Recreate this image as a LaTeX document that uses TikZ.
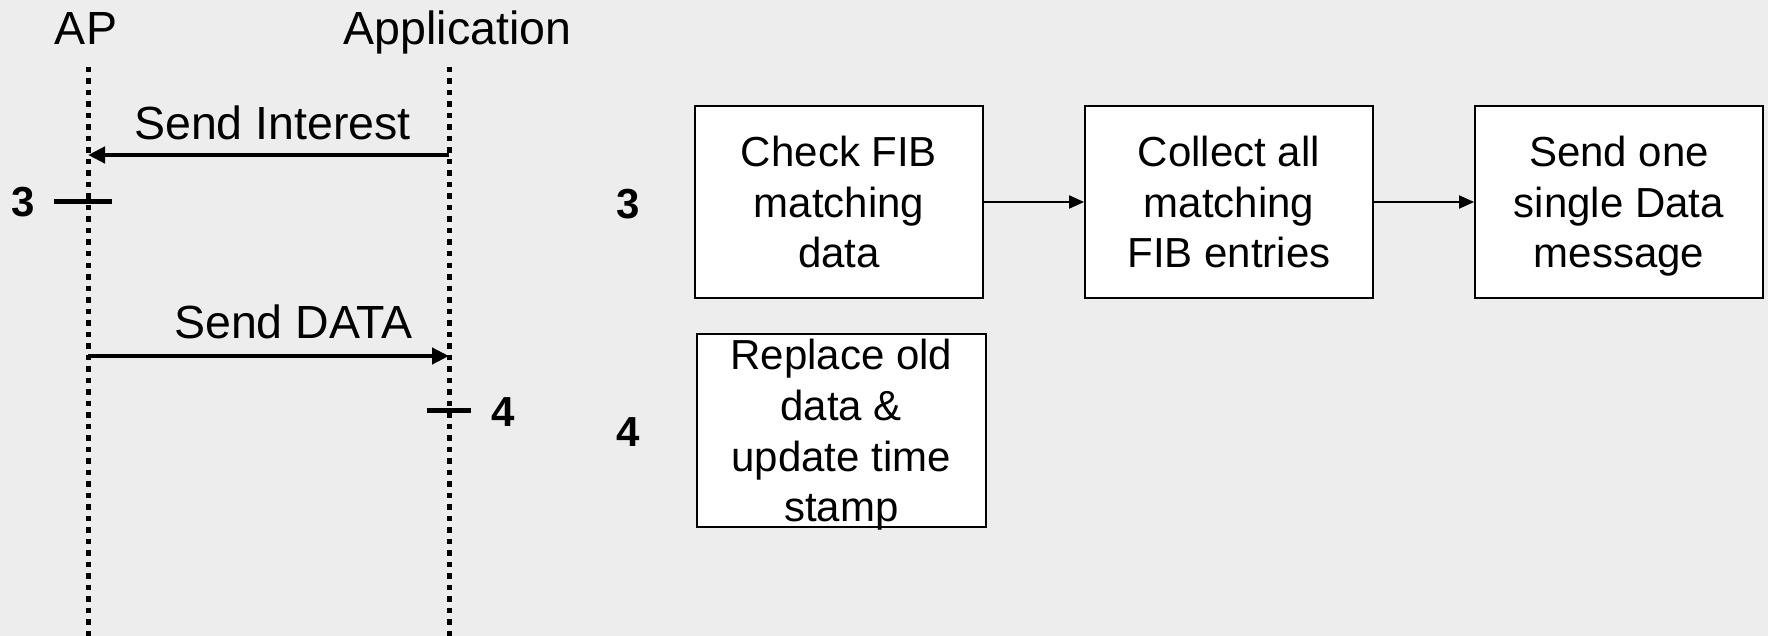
\documentclass[tikz,border=0pt]{standalone}
\usepackage{fontspec}
\setmainfont{Liberation Sans}
\usetikzlibrary{arrows.meta}
\definecolor{bgc}{RGB}{237,237,237}
\begin{document}
\begin{tikzpicture}[x=1pt,y=-1pt,
  lifeline/.style={line width=5pt, dash pattern=on 5.5pt off 6pt},
  msg/.style={line width=4.5pt, -{Triangle[length=17pt,width=16pt]}},
  tickmark/.style={line width=5pt},
  lbl/.style={font=\fontsize{46.5pt}{54pt}\selectfont, inner sep=0pt, anchor=base},
  num/.style={font=\fontsize{42pt}{48pt}\selectfont\bfseries, inner sep=0pt},
  stepbox/.style={draw, line width=1.8pt, fill=white, minimum width=288pt, minimum height=192pt, inner sep=0pt, align=center, font=\fontsize{42pt}{50.7pt}\selectfont},
  flow/.style={line width=2pt, -{Triangle[length=15pt,width=13pt]}}
]
\fill[bgc] (0,0) rectangle (1768,636);
\useasboundingbox (0,0) rectangle (1768,636);

% lifelines
\coordinate (apT) at (88,67);
\coordinate (apB) at (88,640);
\coordinate (appT) at (449,67);
\coordinate (appB) at (449,640);
\draw[lifeline] (apT) -- (apB);
\draw[lifeline] (appT) -- (appB);

% headers
\node[lbl] (ap) at (86,45) {AP};
\node[lbl] (app) at (457.5,45) {Application};

% messages
\coordinate (intS) at (449,155);
\coordinate (intE) at (88,155);
\coordinate (datS) at (88,356);
\coordinate (datE) at (449,356);
\draw[msg] (intS) -- (intE);
\draw[msg] (datS) -- (datE);
\node[lbl] (si) at (272.5,140) {Send Interest};
\node[lbl] (sd) at (293.5,338) {Send DATA};

% ticks
\coordinate (t3a) at (53.5,201.7);
\coordinate (t3b) at (111.7,201.7);
\coordinate (t4a) at (427,410.7);
\coordinate (t4b) at (471,410.7);
\draw[tickmark] (t3a) -- (t3b);
\draw[tickmark] (t4a) -- (t4b);
\node[num] (n3a) at (23,202) {3};
\node[num] (n4a) at (503,412) {4};

% step numbers
\node[num] (n3b) at (628,204) {3};
\node[num] (n4b) at (628,432) {4};

% boxes
\node[stepbox] (b1) at (839,202) {Check FIB\\matching\\data};
\node[stepbox] (b2) at (1229,202) {Collect all\\matching\\FIB entries};
\node[stepbox] (b3) at (1619,202) {Send one\\single Data\\\smash{message}};
\node[stepbox, minimum width=289pt, minimum height=193pt] (b4) at (841.3,430.5) {Replace old\\data \&\\update time\\\smash{stamp}};

\draw[flow] (b1) -- (b2);
\draw[flow] (b2) -- (b3);
\end{tikzpicture}
\end{document}
